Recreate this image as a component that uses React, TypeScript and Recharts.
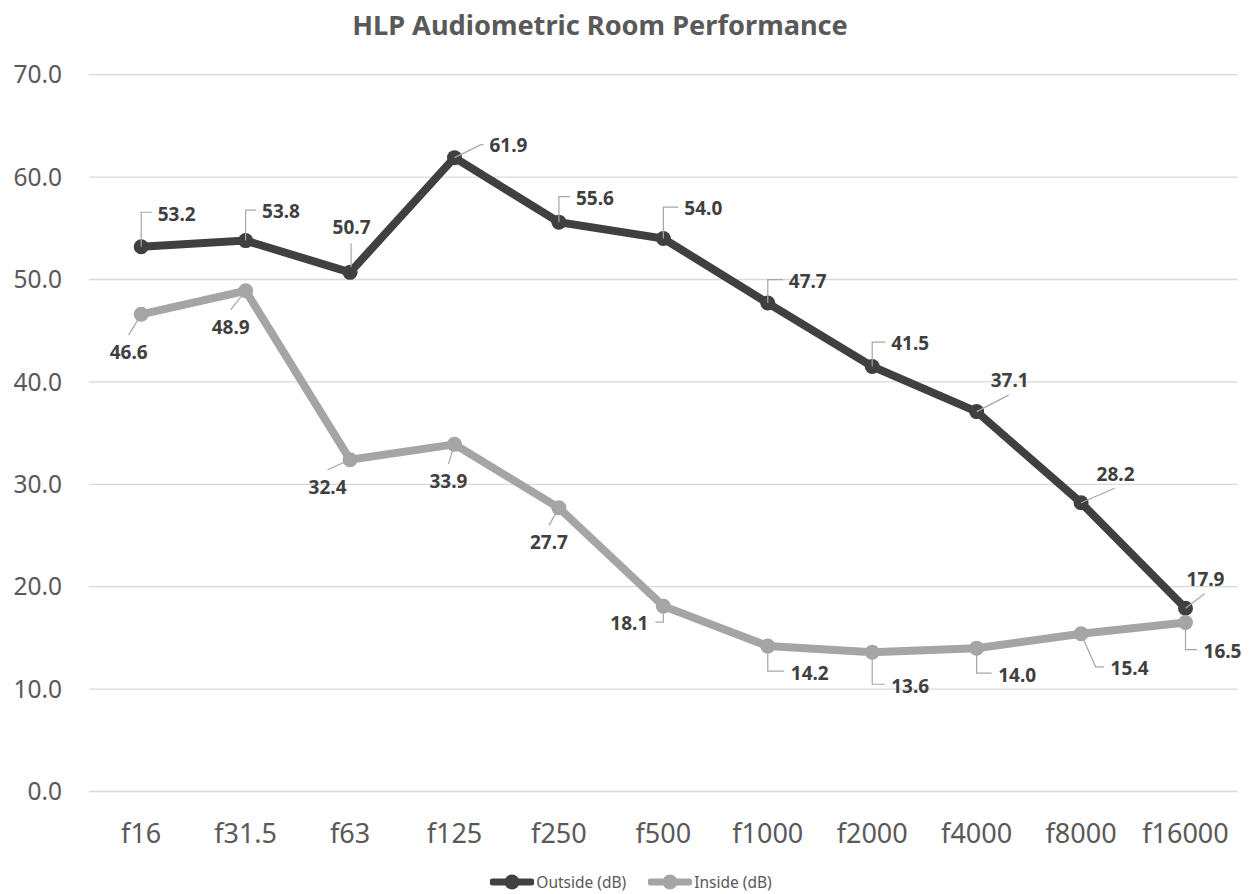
import React from 'react';
import { LineChart, Line, XAxis, YAxis, CartesianGrid, Legend, LabelList } from 'recharts';

const frequencies = ['f16', 'f31.5', 'f63', 'f125', 'f250', 'f500', 'f1000', 'f2000', 'f4000', 'f8000', 'f16000'];
const outsideDb = [53.2, 53.8, 50.7, 61.9, 55.6, 54.0, 47.7, 41.5, 37.1, 28.2, 17.9];
const insideDb = [46.6, 48.9, 32.4, 33.9, 27.7, 18.1, 14.2, 13.6, 14.0, 15.4, 16.5];
const yTicks = [0, 10, 20, 30, 40, 50, 60, 70];
const seriesOrder = ['outside', 'inside'];

const chartData = frequencies.map((f, i) => ({ freq: f, outside: outsideDb[i], inside: insideDb[i] }));

// where each data label sits relative to its point, and how its leader line bends
type Leader = 'ur' | 'v' | 'diag' | 'below' | 'above' | 'dr' | 'dl' | 'sr';
const outsideLabelPos: [number, number, Leader][] = [
  [35.5, -33, 'ur'], [35.4, -29, 'ur'], [1.5, -45, 'v'], [54, -12, 'diag'], [36, -24, 'ur'],
  [40, -30, 'ur'], [40, -22, 'ur'], [38, -23, 'ur'], [33, -31, 'below'], [34.5, -29, 'below'], [20, -29, 'below'],
];
const insideLabelPos: [number, number, Leader][] = [
  [-12.5, 37.5, 'above'], [-15, 36, 'above'], [-22.5, 27, 'above'], [-6, 36.5, 'above'], [-10, 34.5, 'above'],
  [-34, 17.5, 'dl'], [42, 27, 'dr'], [38, 34, 'dr'], [40.5, 27, 'dr'], [48.5, 34.5, 'sr'], [37, 29, 'dr'],
];

const FONT = '"Noto Sans", sans-serif';
const TEXT = '#595959';
const DARK = '#404040';
const LIGHT = '#a5a5a5';

const leaderPath = (px: number, py: number, cx: number, cy: number, kind: Leader) => {
  const hw = 18.5;
  switch (kind) {
    case 'ur': return `M${px},${py}V${cy - 1.5}H${cx - hw - 6.5}`;
    case 'v': return `M${px + 1},${py - 5}V${cy + 16}`;
    case 'diag': return `M${px},${py}L${cx - hw - 9},${cy - 1}H${cx - hw - 6.5}`;
    case 'below': return `M${px},${py}L${cx - 1},${cy + 14.5}`;
    case 'above': return `M${px},${py}L${cx},${cy - 17}`;
    case 'dr': return `M${px},${py}V${cy - 2}H${cx - hw - 7}`;
    case 'dl': return `M${px},${py}V${cy - 1.5}H${cx + hw + 7.5}`;
    case 'sr': return `M${px},${py}L${px + 14.5},${cy - 1.5}H${cx - hw - 7}`;
  }
};

const makeLabel = (layout: [number, number, Leader][], values: number[]) => (props: any) => {
  const px = props.x ?? props.viewBox?.x;
  const py = props.y ?? props.viewBox?.y;
  const idx = props.index ?? values.indexOf(props.value);
  if (px == null || py == null || !layout[idx]) return null;
  const [dx, dy, kind] = layout[idx];
  const cx = px + dx;
  const cy = py + dy;
  return (
    <g>
      <path d={leaderPath(px, py, cx, cy, kind)} fill="none" stroke="#a6a6a6" strokeWidth={1.2} />
      <text x={cx} y={cy + 6.8} textAnchor="middle" fontFamily={FONT} fontWeight={700} fontSize={19} fill={DARK}>
        {Number(props.value).toFixed(1)}
      </text>
    </g>
  );
};

const renderLegend = (props: any) => {
  const items = [...(props.payload || [])].sort(
    (a: any, b: any) => seriesOrder.indexOf(a.dataKey) - seriesOrder.indexOf(b.dataKey)
  );
  return (
    <div style={{ display: 'flex', justifyContent: 'center', gap: 22, paddingLeft: 9, fontFamily: FONT }}>
      {items.map((entry: any) => (
        <div key={entry.value} style={{ display: 'flex', alignItems: 'center' }}>
          <svg width={44} height={18}>
            <line x1={3} x2={41} y1={9} y2={9} stroke={entry.color} strokeWidth={7} strokeLinecap="round" />
            <circle cx={22} cy={9} r={7.5} fill={entry.color} />
          </svg>
          <span style={{ marginLeft: 2, fontSize: 15.5, color: TEXT }}>{entry.value}</span>
        </div>
      ))}
    </div>
  );
};

export default function App() {
  return (
    <div style={{ position: 'relative', width: 1253, height: 894, background: '#fff' }}>
      <style>{'body{margin:0}'}</style>
      <svg width={1253} height={60} style={{ position: 'absolute', left: 0, top: 0 }}>
        <text x={600} y={35} textAnchor="middle" fontFamily={FONT} fontWeight={700} fontSize={27.2} fill={TEXT}>
          HLP Audiometric Room Performance
        </text>
      </svg>
      <LineChart width={1253} height={894} data={chartData} margin={{ top: 74.7, right: 15.3, bottom: 0, left: 0 }}>
        <CartesianGrid vertical={false} stroke="#d9d9d9" strokeWidth={1.3} />
        <XAxis
          dataKey="freq"
          height={102.5}
          padding={{ left: 52.2, right: 52.2 }}
          axisLine={false}
          tickLine={false}
          tickSize={0}
          tickMargin={32}
          interval={0}
          tick={{ fontFamily: FONT, fontSize: 27, fill: TEXT }}
        />
        <YAxis
          width={89}
          domain={[0, 70]}
          ticks={yTicks}
          axisLine={false}
          tickLine={false}
          tickSize={0}
          tickMargin={27}
          tickFormatter={(v: number) => v.toFixed(1)}
          tick={{ fontFamily: FONT, fontSize: 24.5, fill: TEXT }}
        />
        <Legend
          layout="horizontal"
          verticalAlign="middle"
          align="center"
          content={renderLegend}
          wrapperStyle={{ position: 'absolute', top: 871, left: 0, width: 1253, height: 18 }}
        />
        <Line
          name="Outside (dB)"
          dataKey="outside"
          stroke={DARK}
          strokeWidth={8}
          dot={{ r: 7.5, fill: DARK, stroke: DARK, strokeWidth: 0 }}
          activeDot={false}
          isAnimationActive={false}
        >
          <LabelList dataKey="outside" content={makeLabel(outsideLabelPos, outsideDb)} />
        </Line>
        <Line
          name="Inside (dB)"
          dataKey="inside"
          stroke={LIGHT}
          strokeWidth={8}
          dot={{ r: 7.5, fill: LIGHT, stroke: LIGHT, strokeWidth: 0 }}
          activeDot={false}
          isAnimationActive={false}
        >
          <LabelList dataKey="inside" content={makeLabel(insideLabelPos, insideDb)} />
        </Line>
      </LineChart>
    </div>
  );
}
